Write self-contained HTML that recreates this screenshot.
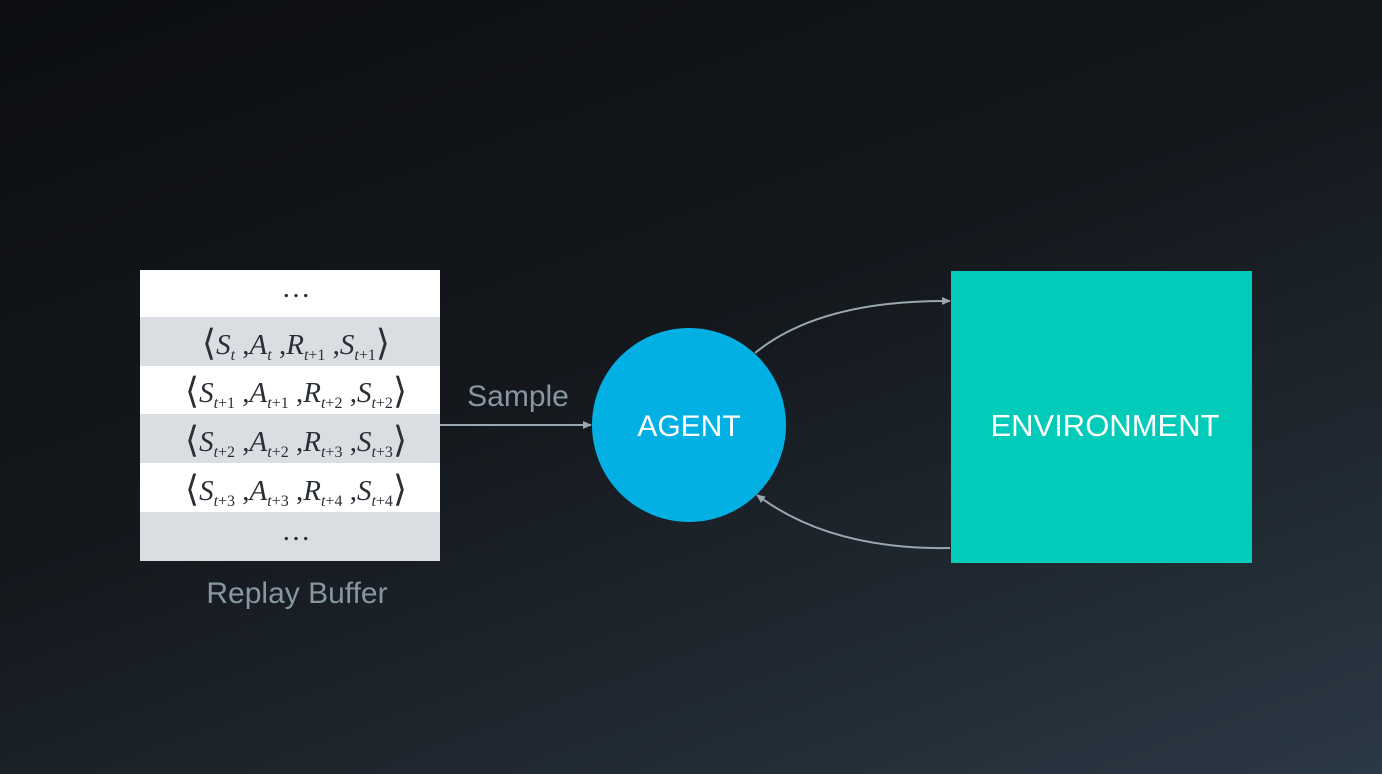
<!DOCTYPE html>
<html><head><meta charset="utf-8"><style>
html,body{margin:0;padding:0;width:1382px;height:774px;overflow:hidden;}
body{background:linear-gradient(160deg,#0c0e11 0%,#14181d 45%,#222c35 80%,#2b3945 100%);}
svg{position:absolute;left:0;top:0}
.m{font-family:"Liberation Serif",serif;font-size:29px;fill:#2a2f35}
.s{font-size:16px}
.b{font-size:36px;font-weight:100}
.l{font-family:"Liberation Sans",sans-serif}
</style></head><body>
<svg width="1382" height="774" viewBox="0 0 1382 774">
<defs><marker id="a" markerWidth="10" markerHeight="10" refX="8" refY="5" orient="auto" markerUnits="userSpaceOnUse"><path d="M0,1 L9,5 L0,9 Z" fill="#9aa6b2"/></marker></defs>
<rect x="140" y="270" width="300" height="47" fill="#ffffff"/>
<rect x="140" y="317" width="300" height="49" fill="#dadee3"/>
<rect x="140" y="366" width="300" height="48" fill="#ffffff"/>
<rect x="140" y="414" width="300" height="49" fill="#dadee3"/>
<rect x="140" y="463" width="300" height="49" fill="#ffffff"/>
<rect x="140" y="512" width="300" height="49" fill="#dadee3"/>
<text x="296" y="297" class="m" text-anchor="middle" font-size="20">…</text>
<text x="296" y="540" class="m" text-anchor="middle" font-size="20">…</text>
<g class="m" text-anchor="middle">
<text x="296" y="354"><tspan class="b" dy="1">⟨</tspan><tspan dy="-1" font-style="italic">S</tspan><tspan class="s" font-style="italic" dy="6">t</tspan><tspan dy="-6"> ,</tspan><tspan font-style="italic">A</tspan><tspan class="s" font-style="italic" dy="6">t</tspan><tspan dy="-6"> ,</tspan><tspan font-style="italic">R</tspan><tspan class="s" dy="6"><tspan font-style="italic">t</tspan>+1</tspan><tspan dy="-6"> ,</tspan><tspan font-style="italic">S</tspan><tspan class="s" dy="6"><tspan font-style="italic">t</tspan>+1</tspan><tspan class="b" dy="-5">⟩</tspan></text>
<text x="296" y="402"><tspan class="b" dy="1">⟨</tspan><tspan dy="-1" font-style="italic">S</tspan><tspan class="s" dy="6"><tspan font-style="italic">t</tspan>+1</tspan><tspan dy="-6"> ,</tspan><tspan font-style="italic">A</tspan><tspan class="s" dy="6"><tspan font-style="italic">t</tspan>+1</tspan><tspan dy="-6"> ,</tspan><tspan font-style="italic">R</tspan><tspan class="s" dy="6"><tspan font-style="italic">t</tspan>+2</tspan><tspan dy="-6"> ,</tspan><tspan font-style="italic">S</tspan><tspan class="s" dy="6"><tspan font-style="italic">t</tspan>+2</tspan><tspan class="b" dy="-5">⟩</tspan></text>
<text x="296" y="451"><tspan class="b" dy="1">⟨</tspan><tspan dy="-1" font-style="italic">S</tspan><tspan class="s" dy="6"><tspan font-style="italic">t</tspan>+2</tspan><tspan dy="-6"> ,</tspan><tspan font-style="italic">A</tspan><tspan class="s" dy="6"><tspan font-style="italic">t</tspan>+2</tspan><tspan dy="-6"> ,</tspan><tspan font-style="italic">R</tspan><tspan class="s" dy="6"><tspan font-style="italic">t</tspan>+3</tspan><tspan dy="-6"> ,</tspan><tspan font-style="italic">S</tspan><tspan class="s" dy="6"><tspan font-style="italic">t</tspan>+3</tspan><tspan class="b" dy="-5">⟩</tspan></text>
<text x="296" y="500"><tspan class="b" dy="1">⟨</tspan><tspan dy="-1" font-style="italic">S</tspan><tspan class="s" dy="6"><tspan font-style="italic">t</tspan>+3</tspan><tspan dy="-6"> ,</tspan><tspan font-style="italic">A</tspan><tspan class="s" dy="6"><tspan font-style="italic">t</tspan>+3</tspan><tspan dy="-6"> ,</tspan><tspan font-style="italic">R</tspan><tspan class="s" dy="6"><tspan font-style="italic">t</tspan>+4</tspan><tspan dy="-6"> ,</tspan><tspan font-style="italic">S</tspan><tspan class="s" dy="6"><tspan font-style="italic">t</tspan>+4</tspan><tspan class="b" dy="-5">⟩</tspan></text>
</g>
<text x="297" y="603" class="l" text-anchor="middle" font-size="30" fill="#8796a3">Replay Buffer</text>
<text x="518" y="406" class="l" text-anchor="middle" font-size="30" fill="#8796a3">Sample</text>
<line x1="440" y1="425" x2="591" y2="425" stroke="#9aa6b2" stroke-width="2" marker-end="url(#a)"/>
<circle cx="689" cy="425" r="97" fill="#02b0e3"/>
<text x="689" y="436" class="l" text-anchor="middle" font-size="30" fill="#ffffff">AGENT</text>
<rect x="951" y="271" width="301" height="292" fill="#02cbb9"/>
<text x="1105" y="436" class="l" text-anchor="middle" font-size="31" fill="#ffffff">ENVIRONMENT</text>
<path d="M755,353 Q820,300 950,301" fill="none" stroke="#9aa6b2" stroke-width="2" marker-end="url(#a)"/>
<path d="M950,548 Q830,550 757,495" fill="none" stroke="#9aa6b2" stroke-width="2" marker-end="url(#a)"/>
</svg>
</body></html>
